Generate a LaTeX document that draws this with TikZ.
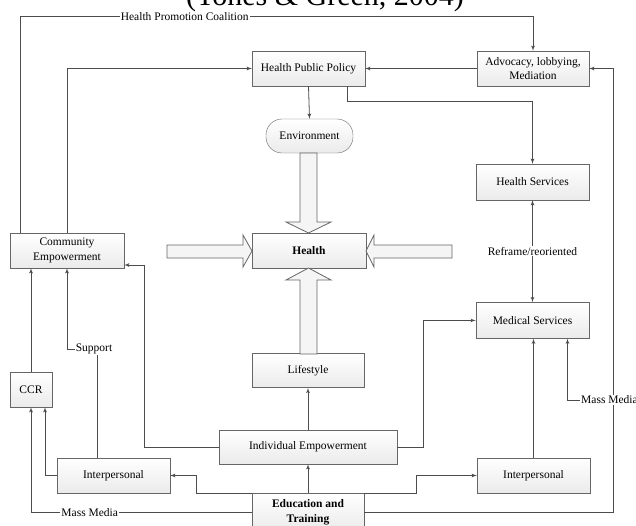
\documentclass[tikz,border=0pt]{standalone}
\usepackage{fontspec}
\setmainfont{Liberation Serif}
\usetikzlibrary{shapes,arrows,positioning}

\begin{document}
\begin{tikzpicture}[%
    x=1pt, y=-1pt,              % Work in picture units, y runs downwards
    >=latex',                   % Small filled tips
    node distance=30pt and 20pt,% Default spacing of the boxes
    ]
% -------------------------------------------------
% Box, connector and label styles
\tikzset{
  base/.style={draw=black!60, top color=white, bottom color=gray!16,
    align=center, inner sep=2pt, font=\fontsize{11.5}{14.5}\selectfont},
  box/.style={base, minimum width=113pt, minimum height=35pt},
  bold/.style={font=\fontsize{11.5}{14.5}\selectfont\bfseries},
  link/.style={->, draw=black!70, line width=0.8pt},
  lbl/.style={fill=white, inner sep=1pt, font=\fontsize{11.5}{14}\selectfont},
  fat/.style={draw=black!60, fill=gray!8, line width=0.8pt}
}
\useasboundingbox (0,0) rectangle (636,525);
% -------------------------------------------------
% Caption line, cut at the top edge
\node [font=\fontsize{30}{30}\selectfont, anchor=base] (title) at (325,5)
  {(Tones \& Green, 2004)};
% -------------------------------------------------
% Start by placing the nodes
\node [box] (hpp) at (308.5,68.5) {Health Public Policy};
\node [box, minimum width=112pt] (adv) at (533,68.5) {Advocacy, lobbying,\\ Mediation};
\node [base, rounded corners=16pt, minimum width=87pt, minimum height=34pt]
  (env) at (309.5,136) {Environment};
\node [box, minimum width=114pt, bold] (health) at (309,250.5) {Health};
\node [box, minimum height=36pt] (hs) at (532.5,182) {Health Services};
\node [box, minimum height=36pt, below=102pt of hs] (ms) {Medical Services};
\node [box, minimum width=114pt] (ce) at (67,250.5) {Community\\ Empowerment};
\node [box, minimum width=42pt] (ccr) at (31,389.5) {CCR};
\node [box] (ip1) at (113.5,475.5) {Interpersonal};
\node [box, minimum width=178pt, minimum height=34pt] (ie) at (308,447) {Individual Empowerment};
\node [box, minimum width=112pt, minimum height=34pt, above=42pt of ie] (life) {Lifestyle};
\node [box, minimum width=112pt, minimum height=38pt, bold, below=29pt of ie] (edu)
  {Education and\\ Training};
\node [box] (ip2) at (533.5,475.5) {Interpersonal};

% -------------------------------------------------
% Hollow arrows into Health
\draw [fat] (300,153) -- (300,222) -- (286,222) -- (308.5,233) -- (331,222)
  -- (317,222) -- (317,153) -- cycle;
\draw [fat] (300,354) -- (300,280) -- (286,280) -- (308.5,268) -- (331,280)
  -- (317,280) -- (317,354) -- cycle;
\draw [fat] (167,245) -- (243,245) -- (243,235) -- (252,251) -- (243,267)
  -- (243,258) -- (167,258) -- cycle;
\draw [fat] (452,245) -- (374,245) -- (374,235) -- (366,251) -- (374,267)
  -- (374,258) -- (452,258) -- cycle;

% -------------------------------------------------
% Connectors
\draw [link] ([xshift=11pt]ce.north west) |- node [lbl, pos=0.66] {Health Promotion Coalition}
  ([yshift=34pt]adv.north) -- (adv.north);
\draw [link] (ce.north) |- (hpp.west);
\draw [link] (adv.west) -- (hpp.east);
\draw [link] (edu.east) -| ([xshift=24pt]adv.east) -- (adv.east);
\draw [link] (hpp.south) -- (env.north);
\draw [link] ([xshift=-18pt]hpp.south east) -- ++(0,15) -| (hs.north);
\draw [link, <->] (hs.south) -- node [lbl] {Reframe/reoriented} (ms.north);
\draw [link] (ie.east) -- ++(26,0) |- (ms.west);
\draw [link] (ie.west) -| ([xshift=20pt,yshift=-14.5pt]ce.east) -- ([yshift=-14.5pt]ce.east);
\draw [link] (ie.north) -- (life.south);
\draw [link] (edu.north) -- (ie.south);
\draw [link] (edu.north west) -- ++(-55,0) |- (ip1.east);
\draw [link] (edu.north east) -- ++(52,0) |- (ip2.west);
\draw [link] (edu.west) -| node [lbl, pos=0.367] {Mass Media} (ccr.south);
\draw [link] (ip1.west) -| ([xshift=14pt]ccr.south);
\draw [link] (ccr.north) -- (ccr.north |- ce.south);
\draw [link] ([xshift=-16.5pt]ip1.north) |- node [lbl, xshift=-3pt] {Support}
  ([yshift=-81pt]ce.south) -- (ce.south);
\draw [link] (ip2.north) -- (ip2.north |- ms.south);
\node [lbl, anchor=west] (mm) at (580,400) {Mass Media};
\draw [link] (mm.west) -| ([xshift=35pt]ms.south);

% -------------------------------------------------
\end{tikzpicture}
\end{document}
